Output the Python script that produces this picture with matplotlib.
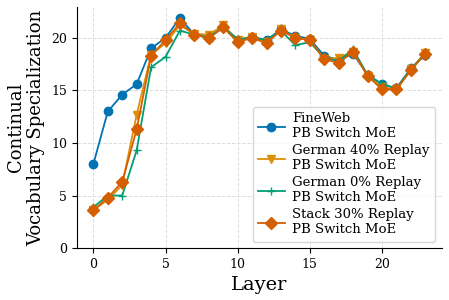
import matplotlib
matplotlib.use("Agg")
import matplotlib.pyplot as plt

layers = list(range(24))
fineweb = [8.0, 13.0, 14.6, 15.6, 19.0, 20.0, 21.9, 20.3, 20.0, 21.0, 19.8, 20.1,
           19.8, 20.8, 20.2, 19.9, 18.3, 17.9, 18.5, 16.5, 15.6, 15.2, 17.1, 18.4]
german40 = [3.6, 4.6, 6.0, 12.7, 18.4, 19.5, 21.2, 20.4, 20.3, 21.2, 19.8, 20.1,
            19.6, 20.8, 20.0, 19.8, 18.0, 18.1, 18.7, 16.4, 15.3, 15.1, 17.0, 18.6]
german0 = [3.9, 5.0, 5.0, 9.3, 17.2, 18.2, 20.7, 20.3, 20.1, 21.0, 19.9, 20.0,
           19.8, 20.7, 19.3, 19.6, 18.1, 17.8, 18.9, 16.5, 15.6, 15.2, 17.0, 18.5]
stack30 = [3.6, 4.8, 6.3, 11.3, 18.3, 19.8, 21.4, 20.3, 20.0, 21.0, 19.6, 20.0,
           19.5, 20.7, 20.0, 19.8, 18.0, 17.6, 18.7, 16.4, 15.1, 15.1, 16.9, 18.5]

labels = ["FineWeb\nPB Switch MoE", "German 40% Replay\nPB Switch MoE",
          "German 0% Replay\nPB Switch MoE", "Stack 30% Replay\nPB Switch MoE"]
colors = ["#0173b2", "#de8f05", "#029e73", "#d55e00"]
markers = ["o", "v", "+", "D"]

plt.rcParams['font.family'] = ['DejaVu Serif']
fig = plt.figure(figsize=(4.49, 3.0), dpi=100)
ax = fig.add_axes([0.171, 0.173, 0.813, 0.804])

for ys, lab, c, m in zip([fineweb, german40, german0, stack30], labels, colors, markers):
    ax.plot(layers, ys, marker=m, color=c, label=lab, markersize=6, linewidth=1.3)

ax.set_ylim(0, 22.95)
ax.set_xlabel("Layer", fontsize=14)
ax.set_ylabel("Continual\nVocabulary Specialization", fontsize=13)
ax.tick_params(labelsize=9)
ax.grid(True, linestyle='--', color='#dddddd', linewidth=0.7)
ax.spines['top'].set_visible(False)
ax.spines['right'].set_visible(False)
ax.legend(loc='lower right', fontsize=9.5, handlelength=2, labelspacing=0.3,
          borderpad=0.4, handletextpad=0.6)
fig.savefig("out.png", dpi=100)
